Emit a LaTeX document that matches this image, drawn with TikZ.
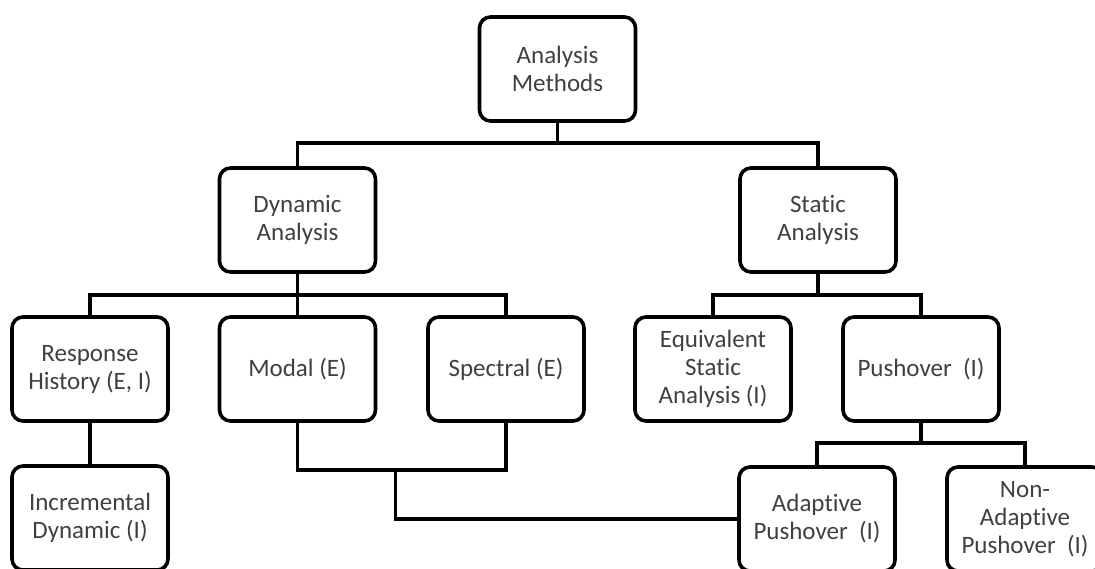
\documentclass[tikz,border=0pt]{standalone}
\usepackage{fontspec}
\setmainfont{Carlito}[Ligatures=NoCommon]
\usetikzlibrary{calc}
\tikzset{
  method/.style={draw=black, line width=3.6pt, rounded corners=11pt, fill=white,
    minimum width=156pt, minimum height=104pt, align=center, inner sep=2pt,
    text=black!75, font=\fontsize{25}{28}\selectfont},
  link/.style={draw=black, line width=3.6pt, line cap=rect}
}
\begin{document}
\begin{tikzpicture}[x=1pt, y=-1pt]
  \useasboundingbox (0,0) rectangle (1095,568);

  % boxes
  \node[method] (top)   at (557.5, 69)  {Analysis\\Methods};
  \node[method] (dyn)   at (297.5, 220) {Dynamic\\Analysis};
  \node[method] (stat)  at (818, 220)   {Static\\Analysis};
  \node[method] (resp)  at (90, 369)    {Response\\History (E, I)};
  \node[method] (modal) at (297.5, 369) {Modal (E)};
  \node[method] (spec)  at (506, 369)   {Spectral (E)};
  \node[method] (equiv) at (713, 369)   {Equivalent\\Static\\Analysis (I)};
  \node[method] (push)  at (921, 369)   {Pushover\ \ (I)};
  \node[method] (incr)  at (90, 518)    {Incremental\\Dynamic (I)};
  \node[method] (adapt) at (817, 519)   {Adaptive\\Pushover\ \ (I)};
  \node[method] (nonad) at (1025, 519)  {Non-\\Adaptive\\Pushover\ \ (I)};

  % tree connectors
  \draw[link] (top.south) -- ++(0,20) -| (dyn.north);
  \draw[link] (top.south) -- ++(0,20) -| (stat.north);

  \draw[link] (dyn.south) -- ++(0,21) -| (resp.north);
  \draw[link] (dyn.south) -- (modal.north);
  \draw[link] (dyn.south) -- ++(0,21) -| (spec.north);

  \draw[link] (stat.south) -- ++(0,21) -| (equiv.north);
  \draw[link] (stat.south) -- ++(0,21) -| (push.north);

  \draw[link] (resp.south) -- (incr.north);

  \draw[link] (push.south) -- ++(0,20) -| (adapt.north);
  \draw[link] (push.south) -- ++(0,20) -| (nonad.north);

  % modal and spectral joined, then led to adaptive pushover
  \draw[link] (modal.south) -- ++(0,47) -| (spec.south);
  \coordinate (join) at ($(modal.south)!0.47!(spec.south) + (0,47)$);
  \draw[link] (join) |- (adapt.west);
\end{tikzpicture}
\end{document}
